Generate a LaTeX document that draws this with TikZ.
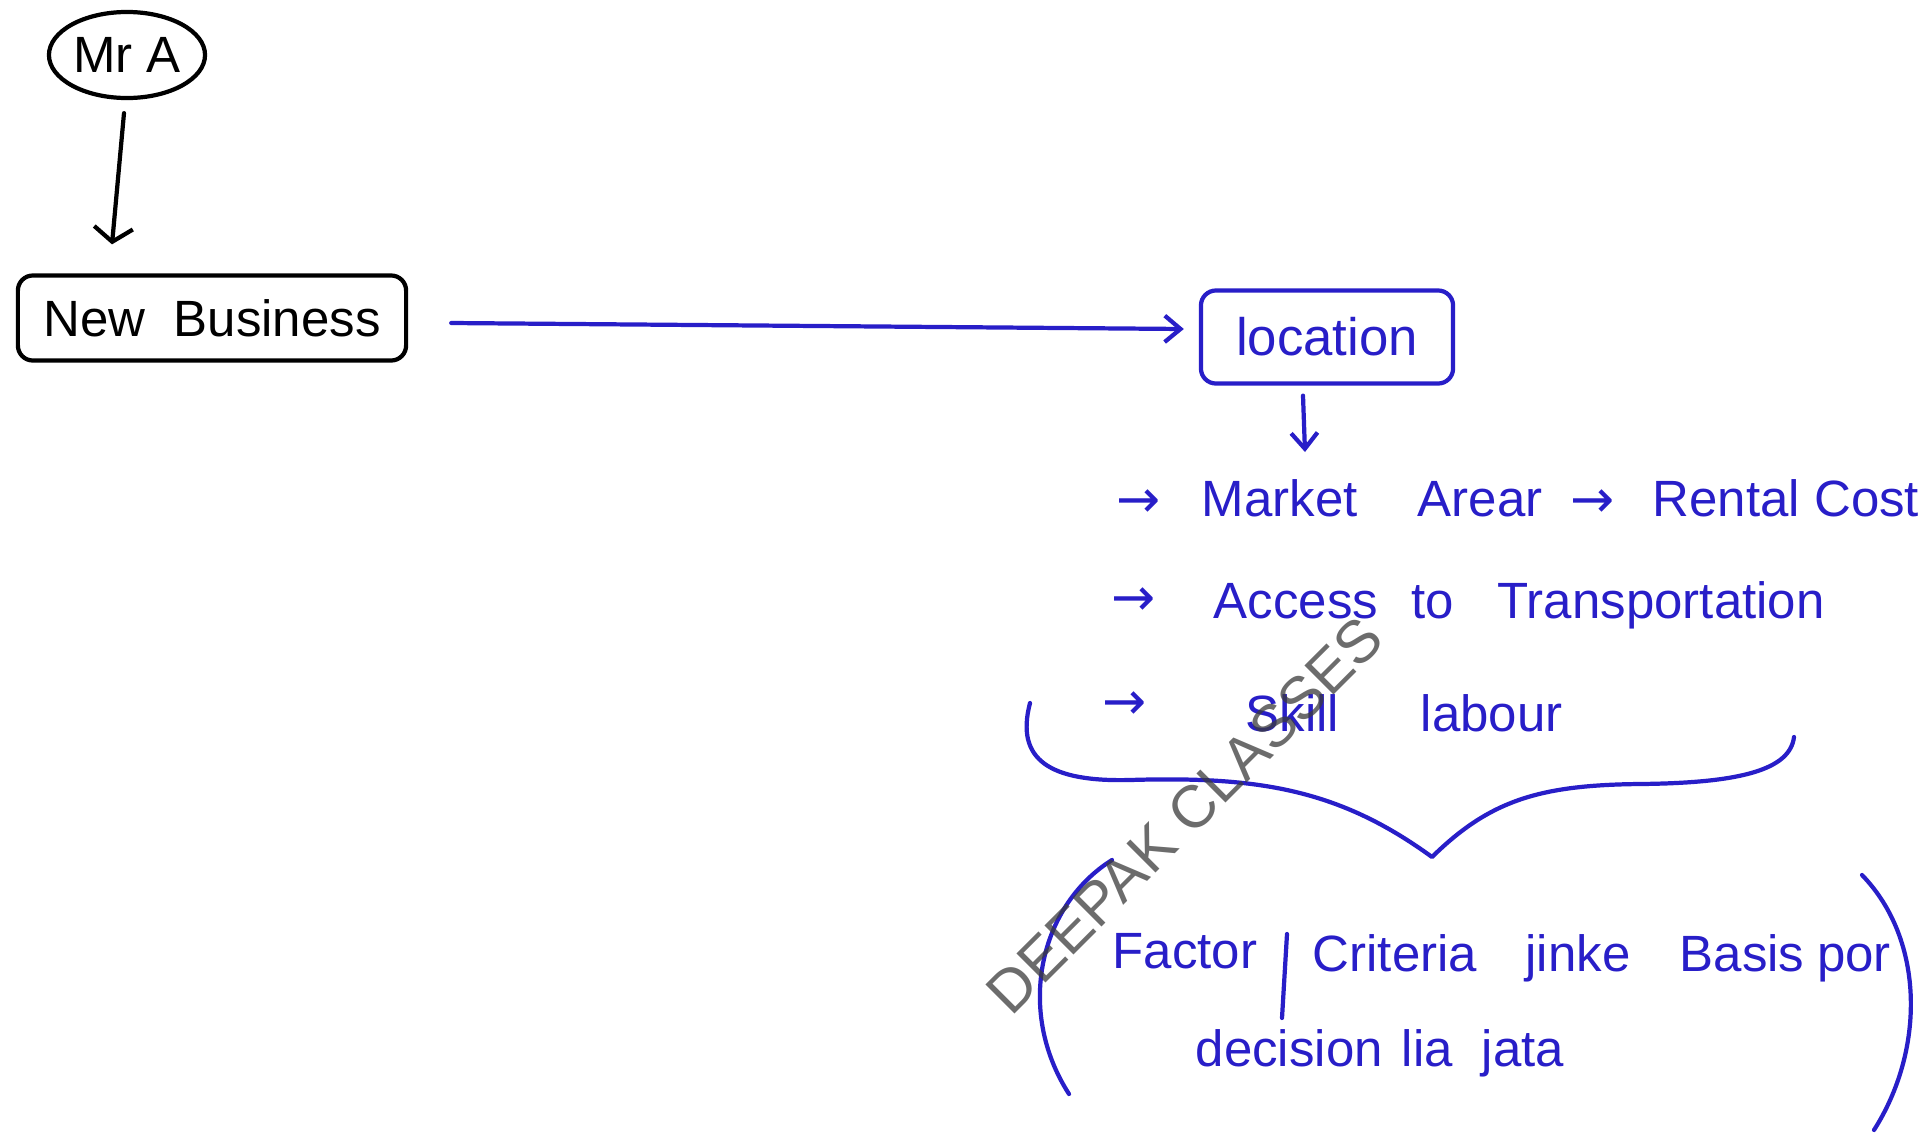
\documentclass[tikz,border=0pt]{standalone}
\usepackage{fontspec}
\setmainfont{Liberation Sans}
\newfontfamily\symf{DejaVu Sans}
\usetikzlibrary{arrows.meta,shapes.geometric,calc}
\definecolor{pen}{RGB}{40,30,200}
\definecolor{wm}{RGB}{60,60,60}
\begin{document}
\begin{tikzpicture}[x=0.01cm,y=-0.01cm,
  ink/.style={line width=1.2pt,line cap=round,line join=round},
  blk/.style={ink,draw=black},
  blu/.style={ink,draw=pen},
  blktip/.style={-{Straight Barb[length=4pt,width=11pt]}},
  blutip/.style={-{Straight Barb[length=4.5pt,width=7.5pt]}},
  bword/.style={text=black,font=\fontsize{14.5}{17}\selectfont,inner sep=0pt},
  word/.style={text=pen,font=\fontsize{14.5}{17}\selectfont,inner sep=0pt,anchor=base west},
  cword/.style={text=pen,font=\fontsize{14.5}{17}\selectfont,inner sep=0pt,anchor=base},
  bullet/.style={text=pen,font=\symf\fontsize{15}{17}\selectfont,inner sep=0pt,anchor=west},
]
\useasboundingbox (0,0) rectangle (1927,1136);
\fill[white] (0,0) rectangle (1927,1136);

% black part
\node[blk,ellipse,minimum width=1.56cm,minimum height=0.86cm,inner sep=0pt,bword] (mra) at (127,55) {Mr A};
\node[blk,rectangle,rounded corners=0.15cm,minimum width=3.88cm,minimum height=0.85cm,bword] (nb) at (212,318) {New\ \ Business};
\draw[blk,blktip] ($(mra.south)+(-3,13)$) -- ($(nb.north)+(-100,-29)$);

% location
\node[blu,rectangle,rounded corners=0.15cm,minimum width=2.52cm,minimum height=0.93cm,text=pen,font=\fontsize{15}{17}\selectfont,inner sep=0pt] (loc) at (1327,337) {location};
\draw[blu,blutip] ($(nb.east)+(43,5)$) -- ($(loc.west)+(-15,-8)$);
\coordinate (listtop) at (1305,452);
\draw[blu,blutip] ($(loc.south)+(-24,10)$) -- (listtop);

% list
\node[bullet] (b1) at (1116,504) {→};
\node[word] (w11) at (1201,516) {Market};
\node[word] (w12) at (1417,516) {Arear};
\node[bullet] (b1b) at (1570,504) {→};
\node[word] (w13) at (1652,516) {Rental Cost};

\node[bullet] (b2) at (1111,602) {→};
\node[word] (w21) at (1213,618) {Access};
\node[word] (w22) at (1411,618) {to};
\node[word] (w23) at (1497,618) {Transportation};

\node[bullet] (b3) at (1102,706) {→};
\node[word] (w31) at (1245,731) {Skill};
\node[word] (w32) at (1420,731) {labour};

% brace
\draw[blu] (1030,703) .. controls (1015,760) and (1050,782) .. (1130,780)
  .. controls (1260,776) and (1340,790) .. (1432,857)
  .. controls (1490,800) and (1540,785) .. (1640,784)
  .. controls (1740,783) and (1790,770) .. (1794,737);

% parentheses
\draw[blu] (1112,860) .. controls (1040,905) and (1015,1010) .. (1069,1094);
\draw[blu] (1862,875) .. controls (1925,940) and (1925,1050) .. (1874,1130);

% definition
\node[word] (f1) at (1112,968) {Factor};
\draw[blu] (1287,934) -- (1282,1018);
\node[cword] (c1) at (1395,971) {Criteria};
\node[cword] (c2) at (1578,971) {jinke};
\node[cword] (c3) at (1742,971) {Basis};
\node[cword] (c4) at (1854,971) {por};
\node[word] (d1) at (1195,1066) {decision};
\node[word] (d2) at (1401,1066) {lia};
\node[word] (d3) at (1481,1066) {jata};

% watermark
\node[text=wm,opacity=0.75,font=\fontsize{17}{20}\selectfont,rotate=45,inner sep=0pt] (wmk) at (1185,815) {DEEPAK CLASSES};
\end{tikzpicture}
\end{document}
